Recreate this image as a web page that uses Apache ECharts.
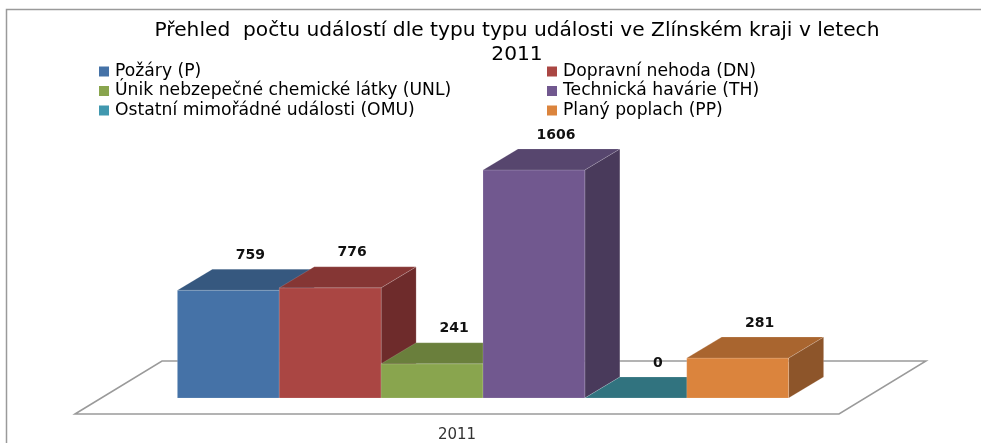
<!DOCTYPE html>
<html>
<head>
<meta charset="UTF-8">
<title>Přehled počtu událostí</title>
<script src="https://cdn.jsdelivr.net/npm/echarts@6/dist/echarts.min.js"></script>
<style>
	html, body { margin: 0; padding: 0; background: #fff; }
</style>
</head>
<body>
	<div id="container" style="width:981px;height:443px;"></div>
	<script type="text/javascript">
	// data
	var categories = ['2011'];
	var seriesNames = [
		'Požáry (P)',
		'Dopravní nehoda (DN)',
		'Únik nebzepečné chemické látky (UNL)',
		'Technická havárie (TH)',
		'Ostatní mimořádné události (OMU)',
		'Planý poplach (PP)'
	];
	var values = [759, 776, 241, 1606, 0, 281];

	// front / top / side colours of each box
	var frontColors = ['#4572a7', '#aa4643', '#89a54e', '#71588f', '#4198af', '#db843d'];
	var topColors   = ['#36587f', '#853634', '#6a7f3c', '#57466e', '#31737f', '#a9652f'];
	var sideColors  = ['#2c4868', '#6e2b2b', '#556633', '#493a5b', '#285e69', '#8d552a'];

	var DX = 35, DY = -21;   // depth of the boxes
	var GAP = 0.1;           // free space on each side of the band

	function boxItem(idx) {
		return function (params, api) {
			var base = api.coord([api.value(0), 0]);
			var bandW = api.size([1, 0])[0];
			var left = base[0] - bandW / 2 + bandW * GAP;
			var w = bandW * (1 - 2 * GAP) / seriesNames.length;
			var x = left + idx * w;
			var y0 = base[1];
			var yt = api.coord([api.value(0), api.value(1)])[1];
			var edge = 'rgba(255,255,255,0.25)';
			var kids = [];
			kids.push({
				type: 'polygon',
				shape: { points: [[x + w, yt], [x + w + DX, yt + DY], [x + w + DX, y0 + DY], [x + w, y0]] },
				style: { fill: sideColors[idx], stroke: edge, lineWidth: 0.6 }
			});
			kids.push({
				type: 'rect',
				shape: { x: x, y: yt, width: w, height: y0 - yt },
				style: { fill: frontColors[idx], stroke: edge, lineWidth: 0.6 }
			});
			kids.push({
				type: 'polygon',
				shape: { points: [[x, yt], [x + DX, yt + DY], [x + w + DX, yt + DY], [x + w, yt]] },
				style: { fill: topColors[idx], stroke: edge, lineWidth: 0.6 }
			});
			kids.push({
				type: 'text',
				style: {
					x: x + w / 2 + 22, y: yt + DY - 14,
					text: String(api.value(1)),
					align: 'center', verticalAlign: 'middle',
					fill: '#111', font: 'bold 14px "DejaVu Sans"'
				}
			});
			return { type: 'group', children: kids };
		};
	}

	// floor of the 3D plot area
	function floorItem(params, api) {
		var base = api.coord([api.value(0), 0]);
		var bandW = api.size([1, 0])[0];
		var l = base[0] - bandW / 2, r = base[0] + bandW / 2, y = base[1];
		return {
			type: 'polygon',
			shape: { points: [[l - 26, y + 16], [l + 61, y - 37], [r + 61, y - 37], [r - 26, y + 16]] },
			style: { fill: '#fff', stroke: '#9a9a9a', lineWidth: 1.5 }
		};
	}

	var series = [{
		name: 'floor',
		type: 'custom',
		renderItem: floorItem,
		data: [[0, 0]],
		z: 1,
		silent: true
	}];
	for (var i = 0; i < seriesNames.length; i++) {
		series.push({
			name: seriesNames[i],
			type: 'custom',
			renderItem: boxItem(i),
			itemStyle: { color: frontColors[i] },
			data: [[0, values[i]]],
			z: 2 + i
		});
	}

	var legendText = { fontFamily: 'DejaVu Sans', fontSize: 17.2, color: '#000', lineHeight: 17, padding: [0, 0, 0, 1] };

	var myChart = echarts.init(document.getElementById('container'));
	var option = {
		animation: false,
		backgroundColor: '#fff',
		title: {
			text: 'Přehled  počtu událostí dle typu typu události ve Zlínském kraji v letech\n2011',
			left: 512,
			top: 14,
			textAlign: 'center',
			textStyle: { fontFamily: 'DejaVu Sans', fontSize: 20.2, fontWeight: 'normal', color: '#000', lineHeight: 24 }
		},
		legend: [{
			data: [seriesNames[0], seriesNames[2], seriesNames[4]],
			orient: 'vertical',
			left: 99, top: 63, padding: 0,
			icon: 'rect', itemWidth: 10, itemHeight: 10,
			itemGap: 2.5, textStyle: legendText
		}, {
			data: [seriesNames[1], seriesNames[3], seriesNames[5]],
			orient: 'vertical',
			left: 547, top: 63, padding: 0,
			icon: 'rect', itemWidth: 10, itemHeight: 10,
			itemGap: 2.5, textStyle: legendText
		}],
		graphic: [{
			type: 'rect',
			shape: { x: 6.5, y: 9.5, width: 1000, height: 450 },
			style: { fill: 'none', stroke: '#9a9a9a', lineWidth: 1.5 },
			z: 0
		}],
		grid: { left: 101, right: 116, top: 114, bottom: 45 },
		xAxis: {
			type: 'category',
			data: categories,
			axisLine: { show: false },
			axisTick: { show: false },
			axisLabel: { fontFamily: 'DejaVu Sans', fontSize: 15, color: '#333', margin: 30, padding: [0, 52, 0, 0] }
		},
		yAxis: { type: 'value', min: 0, max: 2000, show: false },
		series: series
	};
	myChart.setOption(option);
	</script>
</body>
</html>
